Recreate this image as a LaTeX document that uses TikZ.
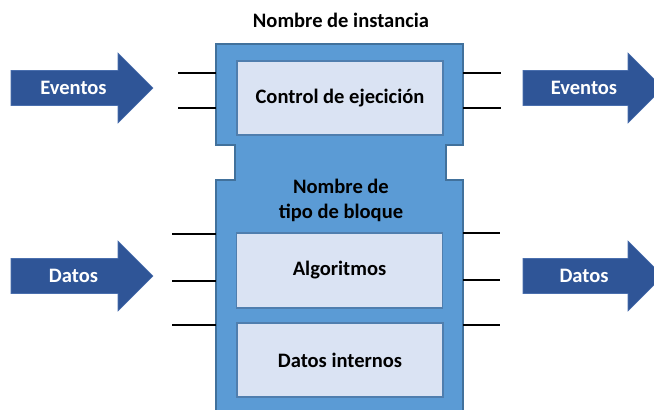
\documentclass[tikz,border=0pt]{standalone}
\usepackage{fontspec}
\setmainfont{Carlito}
\definecolor{blockblue}{HTML}{5B9BD5}
\definecolor{blockedge}{HTML}{41719C}
\definecolor{innerfill}{HTML}{DAE3F3}
\definecolor{inneredge}{HTML}{4F7EAE}
\definecolor{arrowblue}{HTML}{2F5597}
\definecolor{arrowedge}{HTML}{4A6FAE}
\tikzset{
  innerbox/.style={draw=inneredge, line width=1.3bp, fill=innerfill, minimum width=206bp, minimum height=74bp, inner sep=0pt, font=\fontsize{20.6}{24}\selectfont\bfseries},
  label/.style={inner sep=0pt, font=\fontsize{20.6}{25}\selectfont\bfseries, align=center},
  arrowtext/.style={inner sep=0pt, text=white, font=\fontsize{20.6}{24}\selectfont\bfseries},
  bigarrow/.style={fill=arrowblue, draw=arrowedge, line width=0.6bp},
  stub/.style={draw=black, line width=1.4bp}
}
\begin{document}
\begin{tikzpicture}[x=1bp,y=-1bp]
\useasboundingbox (0,0) rectangle (654,409);
\begin{scope}
\clip (0,0) rectangle (654,409);
% main block
\draw[fill=blockblue, draw=blockedge, line width=1.2bp]
  (216,44) -- (463,44) -- (463,145) -- (446,145) -- (446,180) -- (463,180) -- (463,430)
  -- (216,430) -- (216,180) -- (235,180) -- (235,145) -- (216,145) -- cycle;
% arrows
\draw[bigarrow] (11,70.5) -- (118,70.5) -- (118,53) -- (153,88) -- (118,123) -- (118,105.5) -- (11,105.5) -- cycle;
\draw[bigarrow] (11,258.5) -- (118,258.5) -- (118,241) -- (153,276) -- (118,311) -- (118,293.5) -- (11,293.5) -- cycle;
\draw[bigarrow] (523,70.5) -- (628,70.5) -- (628,53) -- (663,88) -- (628,123) -- (628,105.5) -- (523,105.5) -- cycle;
\draw[bigarrow] (523,258.5) -- (628,258.5) -- (628,241) -- (663,276) -- (628,311) -- (628,293.5) -- (523,293.5) -- cycle;
\end{scope}
% arrow labels
\node[arrowtext] (evL) at (73.5,88) {Eventos};
\node[arrowtext] (daL) at (73.5,276) {Datos};
\node[arrowtext] (evR) at (584,88) {Eventos};
\node[arrowtext] (daR) at (584,276) {Datos};
% inner boxes
\node[innerbox] (ctrl) at (340,98) {Control de ejecición};
\node[innerbox, minimum height=75bp] (alg) at (339.5,270.5) {Algoritmos};
\node[innerbox] (dint) at (340,360) {Datos internos};
% labels
\node[label] (inst) at (341,20) {Nombre de instancia};
\node[label] (tipo) at (341,200.5) {Nombre de\\tipo de bloque};
% stubs
\coordinate (l1a) at (178,73); \coordinate (l1b) at (216,73);
\coordinate (l2a) at (178,108); \coordinate (l2b) at (216,108);
\coordinate (r1a) at (463,73); \coordinate (r1b) at (501,73);
\coordinate (r2a) at (463,108); \coordinate (r2b) at (501,108);
\coordinate (l3a) at (172,234); \coordinate (l3b) at (216,234);
\coordinate (l4a) at (172,281); \coordinate (l4b) at (216,281);
\coordinate (l5a) at (172,325); \coordinate (l5b) at (216,325);
\coordinate (r3a) at (463,233); \coordinate (r3b) at (500,233);
\coordinate (r4a) at (463,280); \coordinate (r4b) at (500,280);
\coordinate (r5a) at (463,325); \coordinate (r5b) at (500,325);
\draw[stub] (l1a) -- (l1b);
\draw[stub] (l2a) -- (l2b);
\draw[stub] (r1a) -- (r1b);
\draw[stub] (r2a) -- (r2b);
\draw[stub] (l3a) -- (l3b);
\draw[stub] (l4a) -- (l4b);
\draw[stub] (l5a) -- (l5b);
\draw[stub] (r3a) -- (r3b);
\draw[stub] (r4a) -- (r4b);
\draw[stub] (r5a) -- (r5b);
\end{tikzpicture}
\end{document}
